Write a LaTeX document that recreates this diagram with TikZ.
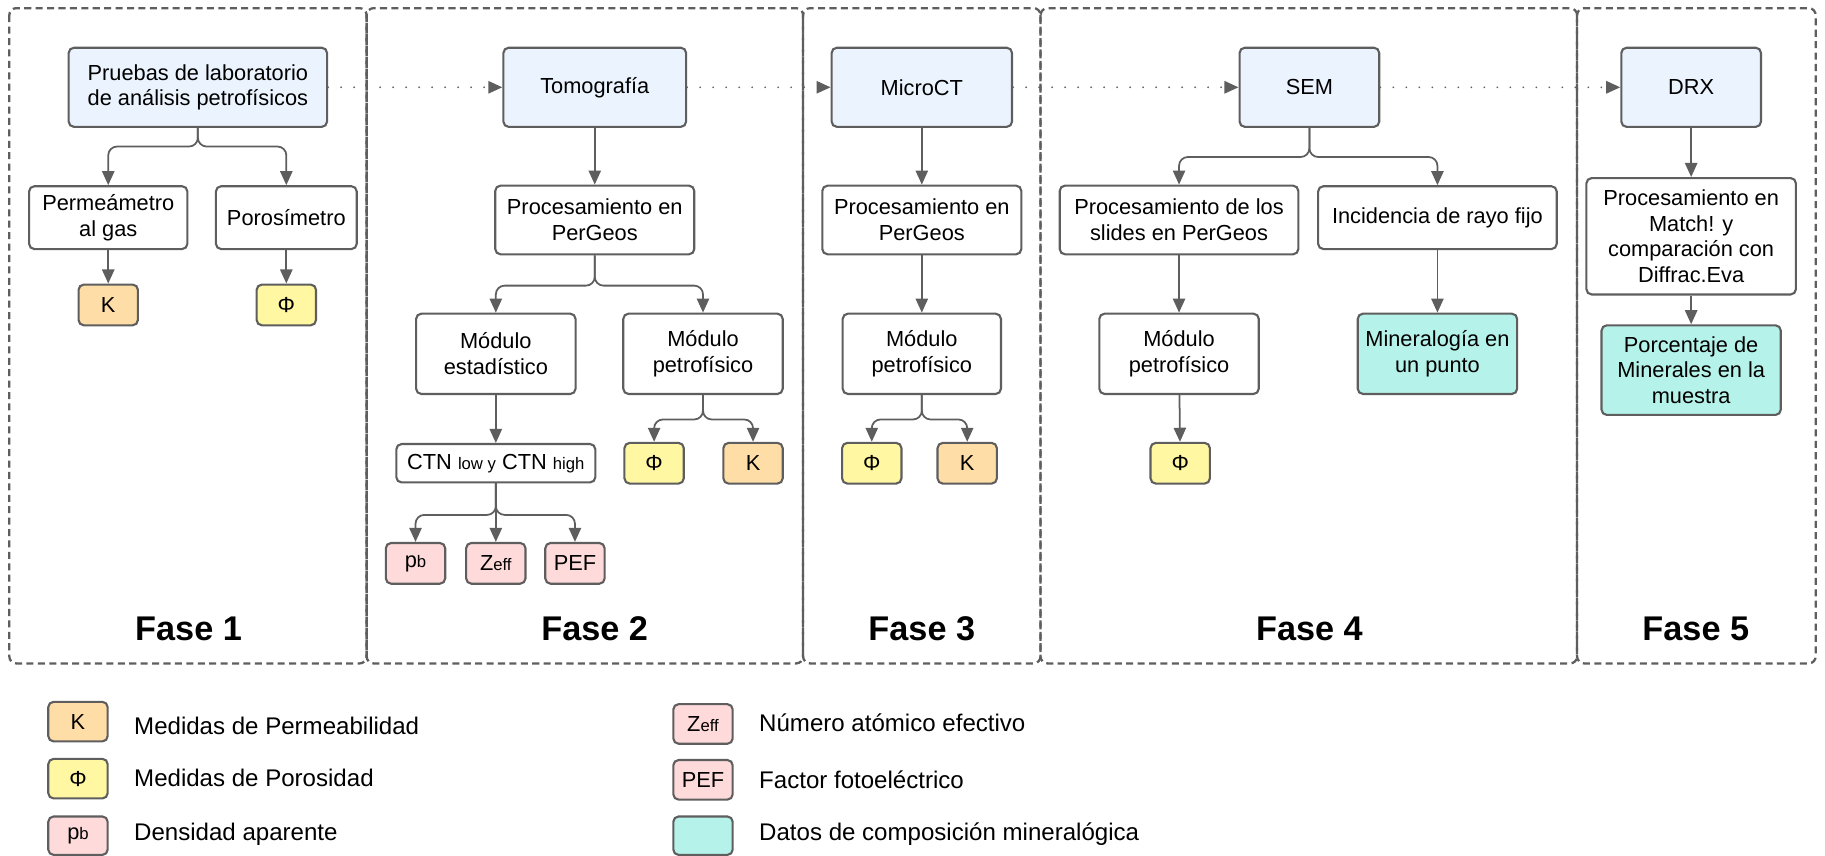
\documentclass[tikz,border=0pt]{standalone}
\usepackage{fontspec}
\setmainfont{Liberation Sans}
\usepackage{tikz}
\usetikzlibrary{arrows.meta}
\usetikzlibrary{positioning}
\definecolor{linegray}{HTML}{5E5E5E}
\definecolor{fillblue}{HTML}{EBF3FE}
\definecolor{fillK}{HTML}{FFDDA6}
\definecolor{fillPhi}{HTML}{FFF7A1}
\definecolor{fillPink}{HTML}{FFDADA}
\definecolor{fillCyan}{HTML}{B5F3EA}
\newcommand{\px}{0.023278cm}
\newcommand{\sm}[1]{{\fontsize{9.5}{11}\selectfont #1}}

\begin{document}
\begin{tikzpicture}[
x=\px, y=-\px,
sz/.style 2 args={minimum width=#1*\px, minimum height=#2*\px},
Box/.style={draw=linegray, line width=1.2pt, rounded corners=3pt, fill=white, align=center,
  inner sep=1pt, font=\fontsize{12.4}{14.6}\selectfont},
MainBox/.style={Box, fill=fillblue},
KBox/.style={Box, fill=fillK, sz={51}{35}},
PhiBox/.style={Box, fill=fillPhi, sz={51}{35}},
PinkBox/.style={Box, fill=fillPink, sz={51}{35}},
MinBox/.style={Box, fill=fillCyan},
Arrow/.style={draw=linegray, line width=1pt, rounded corners=5pt, -{Triangle[length=8pt, width=7pt]}},
Dots/.style={draw=linegray, line width=1.1pt, line cap=round, dash pattern=on 0pt off 7.4pt,
  -{Triangle[length=8pt, width=7pt]}},
Frame/.style={draw=linegray, line width=1.3pt, dash pattern=on 4pt off 2.5pt, rounded corners=4pt},
Phase/.style={font=\fontsize{19.5}{22}\bfseries\selectfont},
Legend/.style={anchor=west, inner sep=0pt, font=\fontsize{13.7}{16}\selectfont}
]
\useasboundingbox (0,0) rectangle (1568,735);

% phase frames
\draw[Frame] (8,7) rectangle (315,570);
\draw[Frame] (315,7) rectangle (690,570);
\draw[Frame] (690,7) rectangle (894,570);
\draw[Frame] (894,7) rectangle (1355,570);
\draw[Frame] (1355,7) rectangle (1560,570);

\node[Phase] (fase1) at (162,540) {Fase 1};
\node[Phase] (fase2) at (511,540) {Fase 2};
\node[Phase] (fase3) at (792,540) {Fase 3};
\node[Phase] (fase4) at (1125,540) {Fase 4};
\node[Phase] (fase5) at (1457,540) {Fase 5};

% main line
\node[MainBox, sz={222}{68}] (pruebas) at (170,75) {Pruebas de laboratorio\\de análisis petrofísicos};
\node[MainBox, sz={157}{68}] (tomo) at (511,75) {Tomografía};
\node[MainBox, sz={155}{68}] (micro) at (792,75) {MicroCT};
\node[MainBox, sz={120}{68}] (sem) at (1125,75) {SEM};
\node[MainBox, sz={120}{68}] (drx) at (1453,75) {DRX};

\draw[Dots] (pruebas.east) -- (tomo.west);
\draw[Dots] (tomo.east) -- (micro.west);
\draw[Dots] (micro.east) -- (sem.west);
\draw[Dots] (sem.east) -- (drx.west);

% Fase 1
\node[Box, sz={136}{54}] (perm) at (93,187) {Permeámetro\\al gas};
\node[Box, sz={121}{54}] (poros) at (246,187) {Porosímetro};
\node[KBox] (k1) at (93,262) {K};
\node[PhiBox] (phi1) at (246,262) {Φ};
\draw[Arrow] (pruebas.south) -- ++(0,16) -| (perm.north);
\draw[Arrow] (pruebas.south) -- ++(0,16) -| (poros.north);
\draw[Arrow] (perm) -- (k1);
\draw[Arrow] (poros) -- (phi1);

% Fase 2
\node[Box, sz={171}{59}] (proc2) at (511,189) {Procesamiento en\\PerGeos};
\node[Box, sz={137}{69}] (modest) at (426,304) {Módulo\\estadístico};
\node[Box, sz={137}{69}] (modpet2) at (604,304) {Módulo\\petrofísico};
\node[Box, sz={171}{33}] (ctn) at (426,398) {CTN \sm{low y} CTN \sm{high}};
\node[PhiBox] (phi2) at (562,398) {Φ};
\node[KBox] (k2) at (647,398) {K};
\node[PinkBox] (rho) at (357,484) {p\sm{b}};
\node[PinkBox] (zeff) at (426,484) {Z\sm{eff}};
\node[PinkBox] (pef) at (494,484) {PEF};
\draw[Arrow] (tomo) -- (proc2);
\draw[Arrow] (proc2.south) -- ++(0,26) -| (modest.north);
\draw[Arrow] (proc2.south) -- ++(0,26) -| (modpet2.north);
\draw[Arrow] (modest) -- (ctn);
\draw[Arrow] (modpet2.south) -- ++(0,21) -| (phi2.north);
\draw[Arrow] (modpet2.south) -- ++(0,21) -| (k2.north);
\draw[Arrow] (ctn.south) -- ++(0,27) -| (rho.north);
\draw[Arrow] (ctn) -- (zeff);
\draw[Arrow] (ctn.south) -- ++(0,27) -| (pef.north);

% Fase 3
\node[Box, sz={171}{59}] (proc3) at (792,189) {Procesamiento en\\PerGeos};
\node[Box, sz={136}{69}] (modpet3) at (792,304) {Módulo\\petrofísico};
\node[PhiBox] (phi3) at (749,398) {Φ};
\node[KBox] (k3) at (831,398) {K};
\draw[Arrow] (micro) -- (proc3);
\draw[Arrow] (proc3) -- (modpet3);
\draw[Arrow] (modpet3.south) -- ++(0,21) -| (phi3.north);
\draw[Arrow] (modpet3.south) -- ++(0,21) -| (k3.north);

% Fase 4
\node[Box, sz={205}{59}] (slides) at (1013,189) {Procesamiento de los\\slides en PerGeos};
\node[Box, sz={205}{54}] (incid) at (1235,187) {Incidencia de rayo fijo};
\node[Box, sz={137}{69}] (modpet4) at (1013,304) {Módulo\\petrofísico};
\node[PhiBox] (phi4) at (1014,398) {Φ};
\node[MinBox, sz={137}{69}] (miner) at (1235,304) {Mineralogía en\\un punto};
\draw[Arrow] (sem.south) -- ++(0,25) -| (slides.north);
\draw[Arrow] (sem.south) -- ++(0,25) -| (incid.north);
\draw[Arrow] (slides) -- (modpet4);
\draw[Arrow] (modpet4) -- (phi4);
\draw[Arrow] (incid) -- (miner);

% Fase 5
\node[Box, sz={180}{100}] (match) at (1453,203) {Procesamiento en\\Match! y\\comparación con\\Diffrac.Eva};
\node[MinBox, sz={154}{77}] (porc) at (1453,318) {Porcentaje de\\Minerales en la\\muestra};
\draw[Arrow] (drx) -- (match);
\draw[Arrow] (match) -- (porc);

% legend
\node[KBox, sz={51}{34}] (lk) at (67,620) {K};
\node[PhiBox, sz={51}{34}] (lphi) at (67,669) {Φ};
\node[PinkBox, sz={51}{33}] (lrho) at (67,718) {p\sm{b}};
\node[PinkBox, sz={51}{34}] (lzeff) at (604,622) {Z\sm{eff}};
\node[PinkBox, sz={51}{34}] (lpef) at (604,670) {PEF};
\node[MinBox, sz={51}{33}] (lmin) at (604,718) {};
\node[Legend] at (115,624) {Medidas de Permeabilidad};
\node[Legend] at (115,668) {Medidas de Porosidad};
\node[Legend] at (115,717) {Densidad aparente};
\node[Legend] at (652,621) {Número atómico efectivo};
\node[Legend] at (652,670) {Factor fotoeléctrico};
\node[Legend] at (652,717) {Datos de composición mineralógica};
\end{tikzpicture}
\end{document}
